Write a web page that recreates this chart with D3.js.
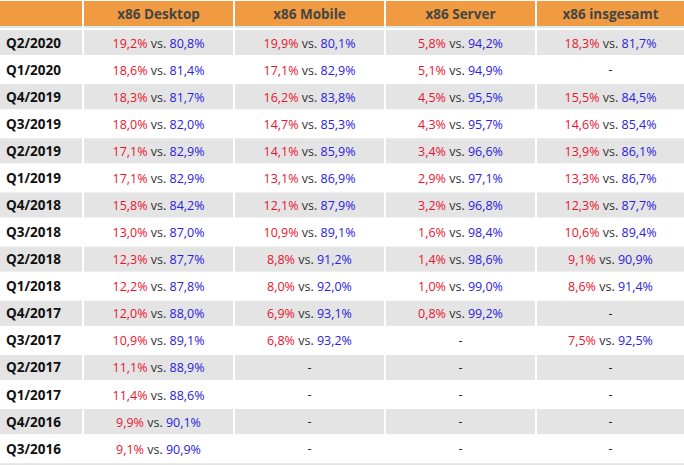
<!DOCTYPE html>
<html><head><meta charset="utf-8">
<script src="https://cdn.jsdelivr.net/npm/d3@7"></script>
<style>
html,body{margin:0;padding:0;background:#fff;}
svg{display:block;}
</style></head>
<body>
<script>
const columns = ["x86 Desktop", "x86 Mobile", "x86 Server", "x86 insgesamt"];
const quarters = ["Q2/2020","Q1/2020","Q4/2019","Q3/2019","Q2/2019","Q1/2019","Q4/2018","Q3/2018","Q2/2018","Q1/2018","Q4/2017","Q3/2017","Q2/2017","Q1/2017","Q4/2016","Q3/2016"];
const desktopAMD   = [19.2,18.6,18.3,18.0,17.1,17.1,15.8,13.0,12.3,12.2,12.0,10.9,11.1,11.4,9.9,9.1];
const desktopIntel = [80.8,81.4,81.7,82.0,82.9,82.9,84.2,87.0,87.7,87.8,88.0,89.1,88.9,88.6,90.1,90.9];
const mobileAMD    = [19.9,17.1,16.2,14.7,14.1,13.1,12.1,10.9,8.8,8.0,6.9,6.8,null,null,null,null];
const mobileIntel  = [80.1,82.9,83.8,85.3,85.9,86.9,87.9,89.1,91.2,92.0,93.1,93.2,null,null,null,null];
const serverAMD    = [5.8,5.1,4.5,4.3,3.4,2.9,3.2,1.6,1.4,1.0,0.8,null,null,null,null,null];
const serverIntel  = [94.2,94.9,95.5,95.7,96.6,97.1,96.8,98.4,98.6,99.0,99.2,null,null,null,null,null];
const totalAMD     = [18.3,null,15.5,14.6,13.9,13.3,12.3,10.6,9.1,8.6,null,7.5,null,null,null,null];
const totalIntel   = [81.7,null,84.5,85.4,86.1,86.7,87.7,89.4,90.9,91.4,null,92.5,null,null,null,null];

const seriesAMD = [desktopAMD, mobileAMD, serverAMD, totalAMD];
const seriesIntel = [desktopIntel, mobileIntel, serverIntel, totalIntel];

const W = 684, H = 465;
const FONT = "'Open Sans', 'Noto Sans', sans-serif";
const fmt = v => d3.format(".1f")(v).replace(".", ",") + "%";

const svg = d3.select("body").append("svg").attr("width", W).attr("height", H);
svg.append("rect").attr("width", W).attr("height", H).attr("fill", "#fff");

const labelCol = {x0: 0, x1: 82};
const x = d3.scaleBand().domain(columns).range([84, 686]).paddingInner(2/151).paddingOuter(0);
const y = d3.scaleBand().domain(quarters).range([30, 30 + 16*26.95]).paddingInner(2/26.95).paddingOuter(0);
const colW = d => Math.min(x.bandwidth(), W - x(d));

// header
const hdr = svg.append("g");
hdr.append("rect").attr("x", labelCol.x0).attr("y", 1).attr("width", labelCol.x1 - labelCol.x0).attr("height", 25).attr("fill", "#F09B41");
hdr.selectAll("rect.h").data(columns).join("rect").attr("class","h")
  .attr("x", d => x(d)).attr("y", 1).attr("width", colW).attr("height", 25).attr("fill", "#F09B41");
hdr.append("rect").attr("x", labelCol.x0).attr("y", 26).attr("width", labelCol.x1).attr("height", 2).attr("fill", "#D6E9F0");
hdr.selectAll("rect.hb").data(columns).join("rect").attr("class","hb")
  .attr("x", d => x(d)).attr("y", 26).attr("width", colW).attr("height", 2).attr("fill", "#D6E9F0");
hdr.selectAll("text").data(columns).join("text")
  .attr("x", d => x(d) + colW(d)/2).attr("y", 14)
  .attr("text-anchor", "middle").attr("dominant-baseline", "central")
  .attr("font-family", FONT).attr("font-weight", "bold").attr("font-size", 13.5)
  .attr("fill", "#454545").text(d => d);

// rows
const rows = svg.append("g").selectAll("g").data(quarters).join("g")
  .attr("transform", d => `translate(0,${y(d)})`);

rows.each(function(q, i) {
  const g = d3.select(this);
  const fill = i % 2 === 0 ? "#E4E4E4" : "#FFFFFF";
  g.append("rect").attr("x", labelCol.x0).attr("width", labelCol.x1).attr("height", y.bandwidth()).attr("fill", fill);
  columns.forEach(c => {
    g.append("rect").attr("x", x(c)).attr("width", colW(c)).attr("height", y.bandwidth()).attr("fill", fill);
  });
  g.append("text").attr("x", 6).attr("y", y.bandwidth()/2)
    .attr("dominant-baseline", "central").attr("font-family", FONT)
    .attr("font-weight", "bold").attr("font-size", 13.5).attr("fill", "#111").text(q);
  columns.forEach((c, ci) => {
    const a = seriesAMD[ci][i], b = seriesIntel[ci][i];
    const cx = x(c) + colW(c)/2;
    const t = g.append("text").attr("x", cx).attr("y", y.bandwidth()/2)
      .attr("text-anchor", "middle").attr("dominant-baseline", "central")
      .attr("font-family", FONT).attr("font-size", 12.5);
    if (a == null) {
      t.attr("fill", "#222").text("-");
    } else {
      t.append("tspan").attr("fill", "#E8142E").text(fmt(a));
      t.append("tspan").attr("fill", "#333").text(" vs. ");
      t.append("tspan").attr("fill", "#2A22DC").text(fmt(b));
    }
  });
});

// start of the next (cut-off) gray row at the bottom edge
const lastY = y(quarters[quarters.length - 1]) + y.step();
svg.append("rect").attr("x", 0).attr("y", lastY).attr("width", W).attr("height", H - lastY).attr("fill", "#E4E4E4");
</script>
</body></html>
